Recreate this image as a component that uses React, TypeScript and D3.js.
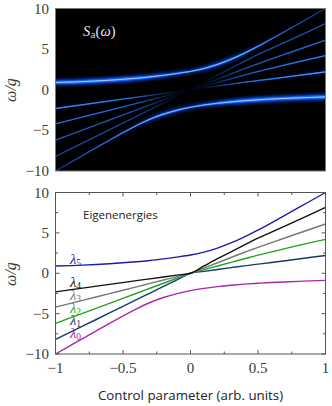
import React from "react";
import * as d3 from "d3";

// control-parameter samples
const controlValues = [-1, -0.8, -0.6, -0.4, -0.3, -0.2, -0.1, 0, 0.1, 0.2, 0.3, 0.4, 0.5, 0.6, 0.8, 1];
// eigenenergies
const lambda0 = [-10, -8.1, -6.2, -4.4, -3.62, -3.0, -2.52, -2.15, -1.87, -1.66, -1.49, -1.35, -1.24, -1.14, -1.0, -0.88];
const lambda1 = [-8.2, -6.56, -4.92, -3.28, -2.46, -1.64, -0.82, 0, 0.23, 0.46, 0.69, 0.92, 1.13, 1.33, 1.77, 2.2];
const lambda2 = [-6.2, -4.96, -3.72, -2.48, -1.86, -1.24, -0.62, 0, 0.45, 0.9, 1.35, 1.8, 2.25, 2.65, 3.45, 4.2];
const lambda3 = [-4.2, -3.36, -2.52, -1.68, -1.26, -0.84, -0.42, 0, 0.65, 1.3, 1.95, 2.6, 3.2, 3.8, 4.95, 6.1];
const lambda4 = [-2.3, -1.84, -1.38, -0.92, -0.69, -0.46, -0.23, 0, 0.9, 1.8, 2.65, 3.5, 4.35, 5.1, 6.6, 8.15];
const lambda5 = [0.9, 1.0, 1.17, 1.42, 1.58, 1.78, 2.0, 2.26, 2.62, 3.12, 3.75, 4.5, 5.35, 6.25, 8.12, 10];
// spectral weight
const weight0 = [0.3, 0.45, 0.6, 0.78, 0.85, 0.9, 0.9, 0.85, 0.9, 0.94, 0.97, 1, 1, 1, 1, 1];
const weight1 = [0.4, 0.42, 0.42, 0.38, 0.3, 0.18, 0.06, 0, 0.1, 0.3, 0.42, 0.52, 0.58, 0.62, 0.7, 0.76];
const weight2 = [0.48, 0.48, 0.47, 0.42, 0.32, 0.2, 0.06, 0, 0.08, 0.25, 0.38, 0.46, 0.52, 0.55, 0.6, 0.64];
const weight3 = [0.56, 0.56, 0.54, 0.46, 0.35, 0.2, 0.06, 0, 0.07, 0.22, 0.34, 0.42, 0.47, 0.5, 0.53, 0.55];
const weight4 = [0.7, 0.67, 0.62, 0.5, 0.38, 0.22, 0.06, 0, 0.06, 0.2, 0.3, 0.38, 0.42, 0.44, 0.45, 0.45];
const weight5 = [1, 1, 1, 0.98, 0.95, 0.93, 0.9, 0.85, 0.9, 0.92, 0.9, 0.85, 0.75, 0.6, 0.42, 0.32];

const seriesValues = [lambda0, lambda1, lambda2, lambda3, lambda4, lambda5];
const seriesWeights = [weight0, weight1, weight2, weight3, weight4, weight5];
const seriesColors = ["#a928a9", "#16386e", "#1fa51f", "#777777", "#111111", "#1c1ca8"];
const seriesSubscripts = ["0", "1", "2", "3", "4", "5"];
const labelEnergies = [-8, -6.4, -4.9, -3.3, -1.7, 1.15];

const xMajorTicks = [-1, -0.5, 0, 0.5, 1];
const xMinorTicks = [-0.75, -0.25, 0.25, 0.75];
const yMajorTicks = [-10, -5, 0, 5, 10];
const yMinorTicks = [-7.5, -2.5, 2.5, 7.5];
const xTickLabels = ["\u22121", "\u22120.5", "0", "0.5", "1"];
const yTickLabels = ["\u221210", "\u22125", "0", "5", "10"];

const W = 332;
const H = 406;
const left = 55.5;
const right = 325.5;
const topPanel = { y0: 8.5, y1: 171 };
const botPanel = { y0: 192.5, y1: 354 };
const SERIF = "'Liberation Serif', serif";
const SANS = "'Open Sans', 'DejaVu Sans', sans-serif";
const TEXT = "#3a3a3a";
const FRAME = "#555";

const x = d3.scaleLinear().domain([-1, 1]).range([left, right]);
const yTop = d3.scaleLinear().domain([-10, 10]).range([topPanel.y1, topPanel.y0]);
const yBot = d3.scaleLinear().domain([-10, 10]).range([botPanel.y1, botPanel.y0]);

const lineFor = (y: d3.ScaleLinear<number, number>) =>
  d3
    .line<number>()
    .x((_, i) => x(controlValues[i]))
    .y((d) => y(d))
    .curve(d3.curveCatmullRom.alpha(0.5));

const YLabel = ({ cy }: { cy: number }) => (
  <text
    transform={`translate(16,${cy}) rotate(-90)`}
    textAnchor="middle"
    fontFamily={SERIF}
    fontStyle="italic"
    fontSize={16}
    fill={TEXT}
  >
    ω/g
  </text>
);

const YTicks = ({ y }: { y: d3.ScaleLinear<number, number> }) => (
  <g fontFamily={SERIF} fontSize={15} fill={TEXT} textAnchor="end">
    {yMajorTicks.map((t, i) => (
      <text key={t} x={49} y={y(t) + 5}>
        {yTickLabels[i]}
      </text>
    ))}
  </g>
);

const Layer = ({ prefix, width }: { prefix: string; width: number }) => {
  const gen = lineFor(yTop);
  return (
    <g fill="none" strokeWidth={width}>
      {seriesValues.map((vals, s) => (
        <path key={s} d={gen(vals) ?? ""} stroke={`url(#${prefix}${s})`} />
      ))}
    </g>
  );
};

const Gradients = ({ prefix, color, power, scale }: { prefix: string; color: string; power: number; scale: number }) => (
  <>
    {seriesWeights.map((w, s) => (
      <linearGradient key={s} id={`${prefix}${s}`} gradientUnits="userSpaceOnUse" x1={left} x2={right} y1={0} y2={0}>
        {w.map((v, i) => (
          <stop
            key={i}
            offset={(controlValues[i] + 1) / 2}
            stopColor={color}
            stopOpacity={Math.min(1, Math.pow(v, power) * scale)}
          />
        ))}
      </linearGradient>
    ))}
  </>
);

export default function App() {
  const genBot = lineFor(yBot);
  return (
    <svg
      width={W}
      height={H}
      viewBox={`0 0 ${W} ${H}`}
      style={{ position: "fixed", left: 0, top: 0, background: "#fff" }}
    >
      <defs>
        <clipPath id="topClip">
          <rect x={left} y={topPanel.y0} width={right - left} height={topPanel.y1 - topPanel.y0} />
        </clipPath>
        <clipPath id="botClip">
          <rect x={left} y={botPanel.y0} width={right - left} height={botPanel.y1 - botPanel.y0} />
        </clipPath>
        <filter id="blurWide" x="-5%" y="-20%" width="110%" height="140%">
          <feGaussianBlur stdDeviation="1.5" />
        </filter>
        <filter id="blurCore" x="-5%" y="-20%" width="110%" height="140%">
          <feGaussianBlur stdDeviation="0.4" />
        </filter>
        <Gradients prefix="glow" color="#0a50ff" power={7} scale={1} />
        <Gradients prefix="band" color="#1468ff" power={10} scale={1} />
        <Gradients prefix="core" color="#1062f5" power={1} scale={1.25} />
        <Gradients prefix="mid" color="#3c90ff" power={2} scale={1.3} />
        <Gradients prefix="hot" color="#a8d2ff" power={4} scale={0.9} />
      </defs>

      {/* Top panel: spectrum */}
      <rect x={left} y={topPanel.y0} width={right - left} height={topPanel.y1 - topPanel.y0} fill="#000" />
      <g clipPath="url(#topClip)">
        <g filter="url(#blurWide)">
          <Layer prefix="glow" width={5.5} />
        </g>
        <g filter="url(#blurCore)">
          <Layer prefix="band" width={3.2} />
          <Layer prefix="core" width={1.4} />
          <Layer prefix="mid" width={1.1} />
          <Layer prefix="hot" width={1} />
        </g>
      </g>
      <rect
        x={left}
        y={topPanel.y0}
        width={right - left}
        height={topPanel.y1 - topPanel.y0}
        fill="none"
        stroke="#777"
        strokeWidth={1}
      />
      <text x={83} y={36} fontFamily={SERIF} fontSize={14.5} fill="#e8e8e8">
        <tspan fontStyle="italic">S</tspan>
        <tspan fontSize={9.5} dy={2} fontFamily={SANS}>a</tspan>
        <tspan dy={-2}>(</tspan>
        <tspan fontStyle="italic">ω</tspan>
        <tspan>)</tspan>
      </text>
      <YTicks y={yTop} />
      <YLabel cy={90} />

      {/* Bottom panel: eigenenergies */}
      <g clipPath="url(#botClip)">
        <g fontFamily={SERIF} fontSize={14.5}>
          {seriesSubscripts.map((sub, s) => (
            <text key={sub} x={70} y={yBot(labelEnergies[s])} fill={seriesColors[s]} fontStyle="italic">
              λ
              <tspan fontSize={9.5} dy={2.5} fontStyle="normal">
                {sub}
              </tspan>
            </text>
          ))}
        </g>
        {seriesValues.map((vals, s) => (
          <path key={s} d={genBot(vals) ?? ""} fill="none" stroke={seriesColors[s]} strokeWidth={1.4} />
        ))}
      </g>
      <g stroke="#444" strokeWidth={0.9}>
        {xMajorTicks.map((t) => (
          <g key={t}>
            <line x1={x(t)} x2={x(t)} y1={botPanel.y1} y2={botPanel.y1 - 4} />
            <line x1={x(t)} x2={x(t)} y1={botPanel.y0} y2={botPanel.y0 + 4} />
          </g>
        ))}
        {xMinorTicks.map((t) => (
          <g key={t}>
            <line x1={x(t)} x2={x(t)} y1={botPanel.y1} y2={botPanel.y1 - 2.5} />
            <line x1={x(t)} x2={x(t)} y1={botPanel.y0} y2={botPanel.y0 + 2.5} />
          </g>
        ))}
        {yMajorTicks.map((t) => (
          <g key={t}>
            <line x1={left} x2={left + 4} y1={yBot(t)} y2={yBot(t)} />
            <line x1={right} x2={right - 4} y1={yBot(t)} y2={yBot(t)} />
          </g>
        ))}
        {yMinorTicks.map((t) => (
          <g key={t}>
            <line x1={left} x2={left + 2.5} y1={yBot(t)} y2={yBot(t)} />
            <line x1={right} x2={right - 2.5} y1={yBot(t)} y2={yBot(t)} />
          </g>
        ))}
      </g>
      <rect
        x={left}
        y={botPanel.y0}
        width={right - left}
        height={botPanel.y1 - botPanel.y0}
        fill="none"
        stroke={FRAME}
        strokeWidth={1}
      />
      <text x={83} y={218.5} fontFamily={SANS} fontSize={11.5} fill="#222">
        Eigenenergies
      </text>
      <YTicks y={yBot} />
      <YLabel cy={274} />
      <g fontFamily={SERIF} fontSize={15} fill={TEXT} textAnchor="middle">
        {xMajorTicks.map((t, i) => (
          <text key={t} x={x(t)} y={373}>
            {xTickLabels[i]}
          </text>
        ))}
      </g>
      <text x={190.5} y={400} textAnchor="middle" fontFamily={SANS} fontSize={13.3} fill="#222">
        Control parameter (arb. units)
      </text>
    </svg>
  );
}
